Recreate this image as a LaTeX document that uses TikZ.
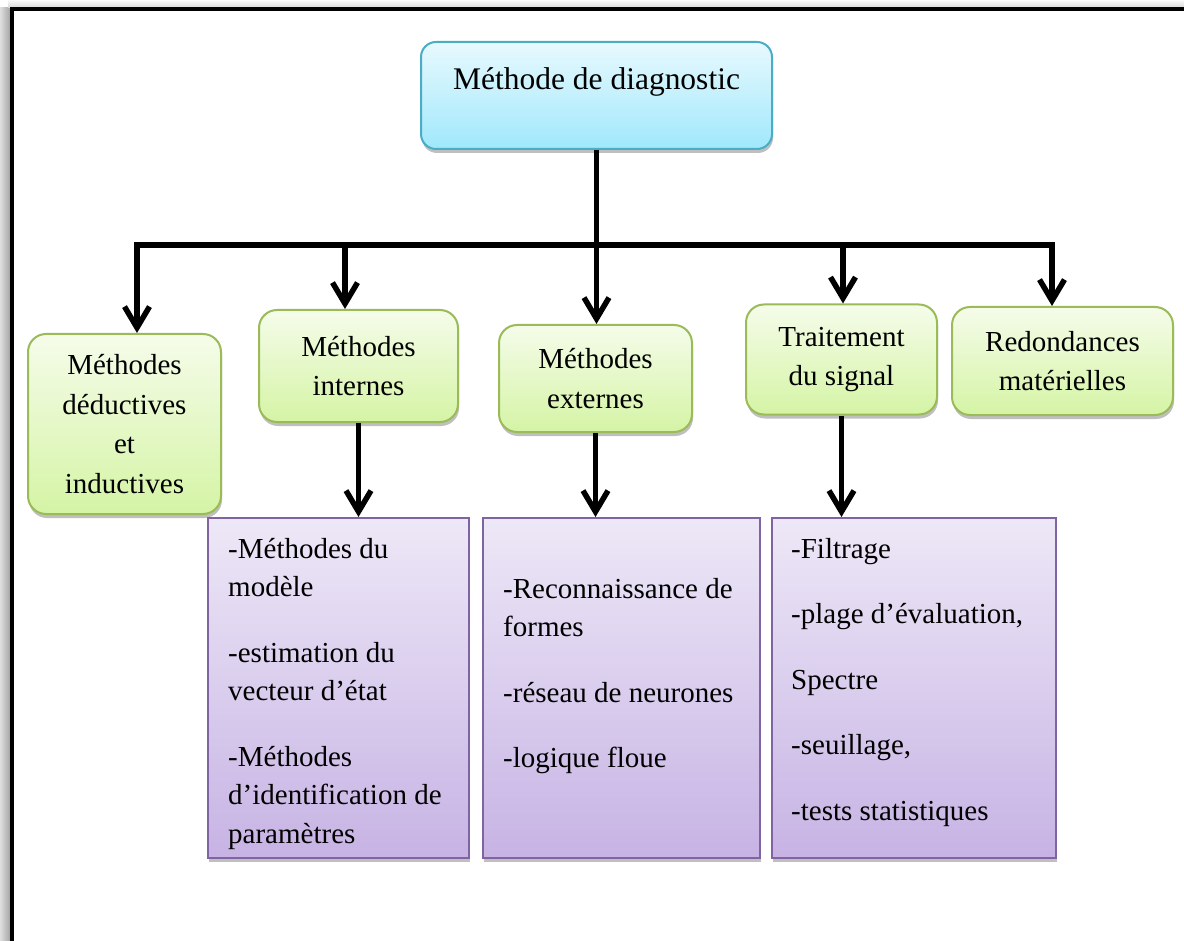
\documentclass[tikz,border=0pt]{standalone}
\usepackage{fontspec}
\setmainfont{Liberation Serif}
\usetikzlibrary{arrows.meta,shadows}

\definecolor{cyanTop}{RGB}{232,249,254}
\definecolor{cyanBot}{RGB}{160,232,252}
\definecolor{cyanLine}{RGB}{75,172,198}
\definecolor{greenTop}{RGB}{245,252,234}
\definecolor{greenBot}{RGB}{213,244,165}
\definecolor{greenLine}{RGB}{155,187,89}
\definecolor{violetTop}{RGB}{237,232,247}
\definecolor{violetBot}{RGB}{199,179,228}
\definecolor{violetLine}{RGB}{128,100,162}

\begin{document}
\begin{tikzpicture}[x=1pt,y=-1pt,
  softshadow/.style={drop shadow={shadow xshift=1pt,shadow yshift=-4pt,opacity=.25,fill=black}},
  mainbox/.style={draw=cyanLine,line width=2pt,rounded corners=15pt,
    top color=cyanTop,bottom color=cyanBot,softshadow,inner sep=0pt,
    font=\fontsize{31.5pt}{38pt}\selectfont},
  catbox/.style={draw=greenLine,line width=2pt,rounded corners=18pt,
    top color=greenTop,bottom color=greenBot,softshadow,align=center,
    inner sep=4pt,font=\fontsize{29pt}{39.5pt}\selectfont},
  listbox/.style={draw=violetLine,line width=2pt,
    top color=violetTop,bottom color=violetBot,softshadow,
    minimum height=340pt,inner sep=0pt},
  listtext/.style={anchor=north west,align=left,inner sep=0pt,
    font=\fontsize{29pt}{38.5pt}\selectfont},
  barb/.style={Straight Barb[length=21pt,width=25pt]},
  arr/.style={line width=5.5pt,-{Straight Barb[length=21pt,width=25pt]}}
]
\useasboundingbox (0,0) rectangle (1184,941);

% page frame with its shadow
\fill[left color=gray!25,right color=gray!70] (0,8) rectangle (10,941);
\fill[top color=gray!5,bottom color=gray!30] (8,0) rectangle (1184,7.5);
\draw[line width=4pt] (12,941) -- (12,9.5) -- (1184,9.5);

% root
\node[mainbox,minimum width=351pt,text height=48pt,text depth=59pt,anchor=north]
  (root) at (596.5,41) {Méthode de diagnostic};

% categories
\node[catbox,minimum width=193pt,minimum height=180pt] (g1) at (124.5,424)
  {Méthodes\\déductives\\et\\inductives};
\node[catbox,minimum width=199pt,minimum height=112pt] (g2) at (358.5,366)
  {Méthodes\\internes};
\node[catbox,minimum width=193pt,minimum height=107pt] (g3) at (595.5,378.5)
  {Méthodes\\externes};
\node[catbox,minimum width=191pt,minimum height=110pt] (g4) at (841.5,359.5)
  {Traitement\\du signal};
\node[catbox,minimum width=221pt,minimum height=108pt] (g5) at (1062.5,361)
  {Redondances\\matérielles};

% detail lists
\node[listbox,minimum width=261pt] (p1) at (338.5,688) {};
\node[listbox,minimum width=277pt] (p2) at (621.5,688) {};
\node[listbox,minimum width=284pt] (p3) at (914,688) {};

\node[listtext] (p1t) at (228,538)
  {-Méthodes du\\modèle\\[27pt]-estimation du\\vecteur d’état\\[27pt]-Méthodes\\d’identification de\\paramètres};
\node[listtext] (p2t) at (503,578)
  {-Reconnaissance de\\formes\\[27pt]-réseau de neurones\\[27pt]-logique floue};
\node[listtext] (p3t) at (791,538)
  {-Filtrage\\[27pt]-plage d’évaluation,\\[27pt]Spectre\\[27pt]-seuillage,\\[27pt]-tests statistiques};

% distribution bus
\coordinate (busL) at (137,245);
\coordinate (busR) at (1052,245);
\coordinate (b2) at (345,245);
\coordinate (b4) at (843,245);

\draw[line width=5.5pt,{Straight Barb[length=21pt,width=25pt]}-{Straight Barb[length=21pt,width=25pt]}]
  (busL |- g1.north) -- (busL) -- (busR) -- (busR |- g5.north);
\draw[arr] (root.south) -- (root.south |- g3.north);
\draw[arr] (b2) -- (b2 |- g2.north);
\draw[arr] (b4) -- (b4 |- g4.north);

\draw[arr] (g2.south) -- (g2.south |- p1.north);
\draw[arr] (g3.south) -- (g3.south |- p2.north);
\draw[arr] (g4.south) -- (g4.south |- p3.north);
\end{tikzpicture}
\end{document}
